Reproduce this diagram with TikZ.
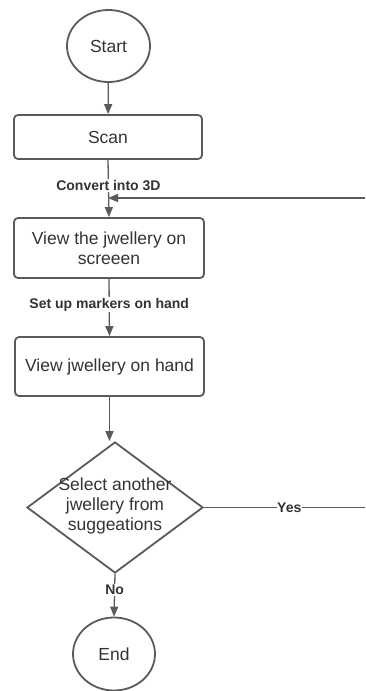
\documentclass[tikz,border=0pt]{standalone}
\usepackage{fontspec}
\setmainfont{Liberation Sans}
\usetikzlibrary{shapes.geometric,arrows.meta}
\definecolor{edge}{HTML}{5A5A5A}
\definecolor{txt}{HTML}{333333}
\tikzset{
  every node/.style={text=txt},
  base/.style={draw=edge, line width=1.8pt, inner sep=0pt, align=center,
    font=\fontsize{17.5}{20.5}\selectfont},
  term/.style={base, ellipse},
  proc/.style={base, rectangle, rounded corners=4pt},
  deci/.style={base, diamond},
  conn/.style={draw=edge, line width=1.3pt, -{Triangle[length=10pt,width=8pt]}},
  thin conn/.style={draw=edge, line width=1pt},
  lbl/.style={fill=white, inner sep=1pt, font=\bfseries\fontsize{14}{16}\selectfont}
}
\begin{document}
\begin{tikzpicture}[x=1pt,y=-1pt]
\useasboundingbox (0,0) rectangle (365,691);
\node[term, minimum width=83pt, minimum height=72pt] (start) at (108.5,46) {Start};
\node[proc, minimum width=188pt, minimum height=44pt] (scan) at (108,137) {Scan};
\node[proc, minimum width=190pt, minimum height=60pt] (view1) at (109,248) {View the jwellery on\\screeen};
\node[proc, minimum width=189pt, minimum height=59pt] (view2) at (109.5,366.5) {View jwellery on hand};
\node[deci, minimum width=176pt, minimum height=131pt] (dec) at (115,507.5) {};
\node[align=center, font=\fontsize{17.5}{20}\selectfont] (dectext) at (115,506) {Select another\\jwellery from\\suggeations};
\node[term, minimum width=82pt, minimum height=73pt] (end) at (114,654) {End};
\coordinate (fb) at (365,198);
\coordinate (yes) at (365,507.5);

\draw[conn] (start) -- (scan);
\draw[conn] (scan.south) -- node[lbl, pos=0.45] {Convert into 3D} (view1.north);
\draw[conn] (fb) -- (scan.south |- fb);
\draw[conn] (view1.south) -- node[lbl, pos=0.45] {Set up markers on hand} (view2.north);
\draw[conn] (view2.south) -- (view2.south |- dec.north);
\draw[thin conn] (dec.east) -- node[lbl, pos=0.53, inner sep=0.5pt] {Yes} (yes);
\draw[conn] (dec.south) -- node[lbl, pos=0.38] {No} (end.north);
\end{tikzpicture}
\end{document}
